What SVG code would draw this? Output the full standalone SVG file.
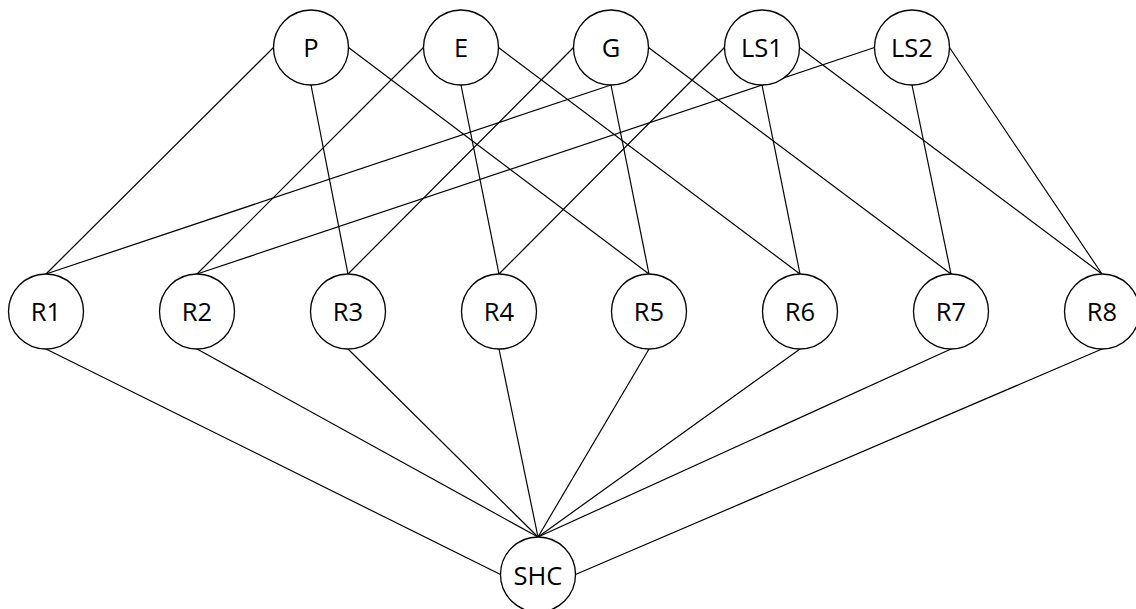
<svg xmlns="http://www.w3.org/2000/svg" width="1136" height="609" viewBox="0 0 1136 609">
<style>
.n circle{fill:#fff;stroke:#000;stroke-width:1.3}
.n text{font-family:"Open Sans","Liberation Sans",sans-serif;font-size:25.5px;text-anchor:middle;fill:#000}
.e line{stroke:#000;stroke-width:1.2}
</style>
<rect width="1136" height="609" fill="#fff"/>
<g class="e" id="connectors">
<!-- P -->
<line x1="273.5" y1="47.5" x2="46" y2="274"/>
<line x1="311" y1="85" x2="348" y2="274"/>
<line x1="348.5" y1="47.5" x2="649" y2="274"/>
<!-- E -->
<line x1="423.5" y1="47.5" x2="197" y2="274"/>
<line x1="461" y1="85" x2="499" y2="274"/>
<line x1="498.5" y1="47.5" x2="800" y2="274"/>
<!-- G -->
<line x1="611" y1="85" x2="46" y2="274"/>
<line x1="573.5" y1="47.5" x2="348" y2="274"/>
<line x1="611" y1="85" x2="649" y2="274"/>
<line x1="648.5" y1="47.5" x2="951" y2="274"/>
<!-- LS1 -->
<line x1="724.5" y1="47.5" x2="499" y2="274"/>
<line x1="762" y1="85" x2="800" y2="274"/>
<line x1="799.5" y1="47.5" x2="1102" y2="274"/>
<!-- LS2 -->
<line x1="874.5" y1="47.5" x2="197" y2="274"/>
<line x1="912" y1="85" x2="951" y2="274"/>
<line x1="949.5" y1="47.5" x2="1102" y2="274"/>
<!-- R to SHC -->
<line x1="46" y1="349" x2="500.5" y2="574.5"/>
<line x1="197" y1="349" x2="538" y2="537"/>
<line x1="348" y1="349" x2="538" y2="537"/>
<line x1="499" y1="349" x2="538" y2="537"/>
<line x1="649" y1="349" x2="538" y2="537"/>
<line x1="800" y1="349" x2="538" y2="537"/>
<line x1="951" y1="349" x2="538" y2="537"/>
<line x1="1102" y1="349" x2="575.5" y2="574.5"/>
</g>
<g class="n" id="P"><circle cx="311" cy="47.5" r="37.5"/><text x="311" y="57">P</text></g>
<g class="n" id="E"><circle cx="461" cy="47.5" r="37.5"/><text x="461" y="57">E</text></g>
<g class="n" id="G"><circle cx="611" cy="47.5" r="37.5"/><text x="611" y="57">G</text></g>
<g class="n" id="LS1"><circle cx="762" cy="47.5" r="37.5"/><text x="762" y="57">LS1</text></g>
<g class="n" id="LS2"><circle cx="912" cy="47.5" r="37.5"/><text x="912" y="57">LS2</text></g>
<g class="n" id="R1"><circle cx="46" cy="311.5" r="37.5"/><text x="46" y="321">R1</text></g>
<g class="n" id="R2"><circle cx="197" cy="311.5" r="37.5"/><text x="197" y="321">R2</text></g>
<g class="n" id="R3"><circle cx="348" cy="311.5" r="37.5"/><text x="348" y="321">R3</text></g>
<g class="n" id="R4"><circle cx="499" cy="311.5" r="37.5"/><text x="499" y="321">R4</text></g>
<g class="n" id="R5"><circle cx="649" cy="311.5" r="37.5"/><text x="649" y="321">R5</text></g>
<g class="n" id="R6"><circle cx="800" cy="311.5" r="37.5"/><text x="800" y="321">R6</text></g>
<g class="n" id="R7"><circle cx="951" cy="311.5" r="37.5"/><text x="951" y="321">R7</text></g>
<g class="n" id="R8"><circle cx="1102" cy="311.5" r="37.5"/><text x="1102" y="321">R8</text></g>
<g class="n" id="SHC"><circle cx="538" cy="574.5" r="37.5"/><text x="538" y="584.5">SHC</text></g>
</svg>
